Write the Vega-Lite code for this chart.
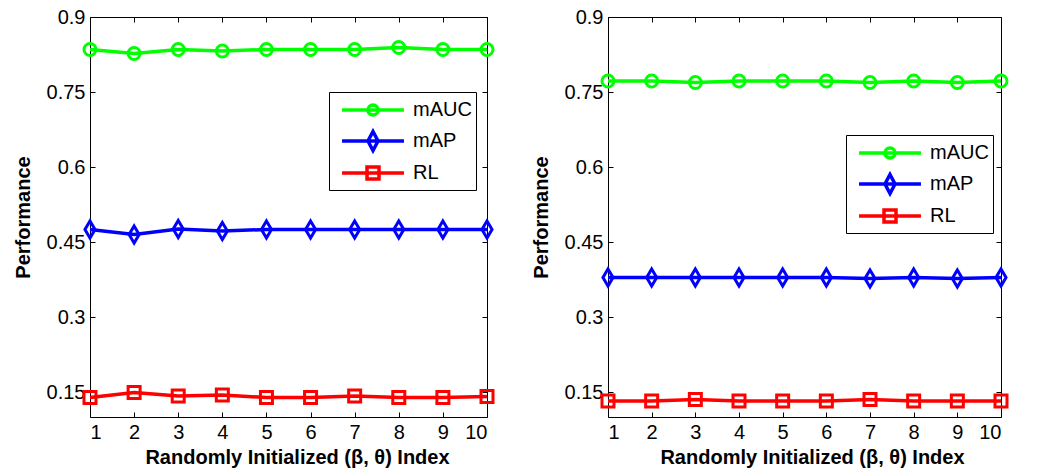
{
  "$schema": "https://vega.github.io/schema/vega-lite/v6.json",
  "background": "white",
  "padding": {"left": 12, "top": 6, "right": 5, "bottom": 2},
  "config": {
    "font": "Liberation Sans",
    "view": {"stroke": "#000", "strokeWidth": 1},
    "axis": {
      "domain": false,
      "labelFont": "Liberation Sans",
      "labelFontSize": 20,
      "labelColor": "#000",
      "tickColor": "#000",
      "tickSize": -5,
      "tickWidth": 1,
      "labelPadding": 10,
      "grid": true,
      "gridColor": "#000",
      "gridOpacity": 0.45,
      "gridDash": [1, 3],
      "gridWidth": 1,
      "titleFont": "Liberation Sans",
      "titleFontSize": 20,
      "titleFontWeight": "bold",
      "titleColor": "#000"
    },
    "legend": {
      "orient": "none", "title": null, "direction": "vertical",
      "strokeColor": "#000", "fillColor": "#fff", "padding": 4, "rowPadding": 1,
      "symbolSize": 576, "symbolStrokeWidth": 3.5, "symbolOffset": 26, "labelOffset": 26,
      "labelFontSize": 20, "labelFont": "Liberation Sans", "labelColor": "#000"
    }
  },
  "datasets": {
    "left": [
      {"index": 1, "metric": "mAUC", "value": 0.835},
      {"index": 2, "metric": "mAUC", "value": 0.827},
      {"index": 3, "metric": "mAUC", "value": 0.835},
      {"index": 4, "metric": "mAUC", "value": 0.832},
      {"index": 5, "metric": "mAUC", "value": 0.835},
      {"index": 6, "metric": "mAUC", "value": 0.835},
      {"index": 7, "metric": "mAUC", "value": 0.835},
      {"index": 8, "metric": "mAUC", "value": 0.839},
      {"index": 9, "metric": "mAUC", "value": 0.835},
      {"index": 10, "metric": "mAUC", "value": 0.835},
      {"index": 1, "metric": "mAP", "value": 0.475},
      {"index": 2, "metric": "mAP", "value": 0.465},
      {"index": 3, "metric": "mAP", "value": 0.476},
      {"index": 4, "metric": "mAP", "value": 0.472},
      {"index": 5, "metric": "mAP", "value": 0.475},
      {"index": 6, "metric": "mAP", "value": 0.475},
      {"index": 7, "metric": "mAP", "value": 0.475},
      {"index": 8, "metric": "mAP", "value": 0.475},
      {"index": 9, "metric": "mAP", "value": 0.475},
      {"index": 10, "metric": "mAP", "value": 0.475},
      {"index": 1, "metric": "RL", "value": 0.139},
      {"index": 2, "metric": "RL", "value": 0.149},
      {"index": 3, "metric": "RL", "value": 0.142},
      {"index": 4, "metric": "RL", "value": 0.144},
      {"index": 5, "metric": "RL", "value": 0.139},
      {"index": 6, "metric": "RL", "value": 0.139},
      {"index": 7, "metric": "RL", "value": 0.142},
      {"index": 8, "metric": "RL", "value": 0.139},
      {"index": 9, "metric": "RL", "value": 0.139},
      {"index": 10, "metric": "RL", "value": 0.141}
    ],
    "right": [
      {"index": 1, "metric": "mAUC", "value": 0.772},
      {"index": 2, "metric": "mAUC", "value": 0.772},
      {"index": 3, "metric": "mAUC", "value": 0.769},
      {"index": 4, "metric": "mAUC", "value": 0.772},
      {"index": 5, "metric": "mAUC", "value": 0.772},
      {"index": 6, "metric": "mAUC", "value": 0.772},
      {"index": 7, "metric": "mAUC", "value": 0.769},
      {"index": 8, "metric": "mAUC", "value": 0.772},
      {"index": 9, "metric": "mAUC", "value": 0.769},
      {"index": 10, "metric": "mAUC", "value": 0.772},
      {"index": 1, "metric": "mAP", "value": 0.379},
      {"index": 2, "metric": "mAP", "value": 0.379},
      {"index": 3, "metric": "mAP", "value": 0.379},
      {"index": 4, "metric": "mAP", "value": 0.379},
      {"index": 5, "metric": "mAP", "value": 0.379},
      {"index": 6, "metric": "mAP", "value": 0.379},
      {"index": 7, "metric": "mAP", "value": 0.377},
      {"index": 8, "metric": "mAP", "value": 0.379},
      {"index": 9, "metric": "mAP", "value": 0.377},
      {"index": 10, "metric": "mAP", "value": 0.379},
      {"index": 1, "metric": "RL", "value": 0.132},
      {"index": 2, "metric": "RL", "value": 0.132},
      {"index": 3, "metric": "RL", "value": 0.135},
      {"index": 4, "metric": "RL", "value": 0.132},
      {"index": 5, "metric": "RL", "value": 0.132},
      {"index": 6, "metric": "RL", "value": 0.132},
      {"index": 7, "metric": "RL", "value": 0.135},
      {"index": 8, "metric": "RL", "value": 0.132},
      {"index": 9, "metric": "RL", "value": 0.132},
      {"index": 10, "metric": "RL", "value": 0.132}
    ]
  },
  "spacing": 30,
  "resolve": {
    "scale": {"color": "independent", "shape": "independent"},
    "legend": {"color": "independent", "shape": "independent"}
  },
  "hconcat": [
    {
      "width": 397,
      "height": 400,
      "data": {"name": "left"},
      "resolve": {"axis": {"x": "independent", "y": "independent"}},
      "layer": [
        {
          "transform": [{"filter": "datum.index < 0"}],
          "mark": {"type": "point", "filled": false, "strokeWidth": 3.5, "size": 576, "opacity": 1},
          "encoding": {
            "x": {"field": "index", "type": "quantitative", "scale": {"domain": [1, 10], "nice": false}, "axis": null},
            "y": {"field": "value", "type": "quantitative", "scale": {"domain": [0.1, 0.9], "nice": false, "zero": false}, "axis": null},
            "color": {"field": "metric", "type": "nominal",
              "scale": {"domain": ["mAUC", "mAP", "RL"], "range": ["#00ff00", "#0000ff", "#ff0000"]},
              "legend": {"legendX": 239, "legendY": 75}},
            "shape": {"field": "metric", "type": "nominal", "legend": null,
              "scale": {"domain": ["mAUC", "mAP", "RL"], "range": [
                "M-2.58,0L2.58,0M0.42,0A0.42,0.42 0 1,1 -0.42,0A0.42,0.42 0 1,1 0.42,0",
                "M-2.58,0L2.58,0M0,-0.79L0.42,0L0,0.79L-0.42,0Z",
                "M-2.58,0L2.58,0M-0.5,-0.5L0.5,-0.5L0.5,0.5L-0.5,0.5Z"]}}
          }
        },
        {
          "mark": {"type": "line", "strokeWidth": 3.5},
          "encoding": {
            "x": {"field": "index", "type": "quantitative", "scale": {"domain": [1, 10], "nice": false},
              "axis": {"values": [1, 2, 3, 4, 5, 6, 7, 8, 9, 10], "format": "d", "title": "Randomly Initialized (β, θ) Index", "titlePadding": 5, "titleX": 207}},
            "y": {"field": "value", "type": "quantitative", "scale": {"domain": [0.1, 0.9], "nice": false, "zero": false},
              "axis": {"values": [0.15, 0.3, 0.45, 0.6, 0.75, 0.9], "labelExpr": "format(datum.value, '.2~f')", "title": "Performance", "titlePadding": 13}},
            "color": {"field": "metric", "type": "nominal",
              "scale": {"domain": ["mAUC", "mAP", "RL"], "range": ["#00ff00", "#0000ff", "#ff0000"]}, "legend": null}
          }
        },
        {
          "transform": [{"filter": "datum.metric === 'mAUC'"}],
          "mark": {"type": "point", "shape": "M0.5,0A0.5,0.5 0 1,1 -0.5,0A0.5,0.5 0 1,1 0.5,0Z", "filled": false, "strokeWidth": 3, "size": 576, "opacity": 1},
          "encoding": {
            "x": {"field": "index", "type": "quantitative",
              "axis": {"orient": "top", "values": [1, 2, 3, 4, 5, 6, 7, 8, 9, 10], "labels": false, "grid": false, "title": null}},
            "y": {"field": "value", "type": "quantitative",
              "axis": {"orient": "right", "values": [0.15, 0.3, 0.45, 0.6, 0.75, 0.9], "labels": false, "grid": false, "title": null}},
            "color": {"field": "metric", "type": "nominal",
              "scale": {"domain": ["mAUC", "mAP", "RL"], "range": ["#00ff00", "#0000ff", "#ff0000"]}, "legend": null}
          }
        },
        {
          "transform": [{"filter": "datum.metric === 'mAP'"}],
          "mark": {"type": "point", "shape": "M0,-0.71L0.42,0L0,0.71L-0.42,0Z", "filled": false, "strokeWidth": 3, "size": 576, "opacity": 1},
          "encoding": {
            "x": {"field": "index", "type": "quantitative", "axis": null},
            "y": {"field": "value", "type": "quantitative", "axis": null},
            "color": {"field": "metric", "type": "nominal",
              "scale": {"domain": ["mAUC", "mAP", "RL"], "range": ["#00ff00", "#0000ff", "#ff0000"]}, "legend": null}
          }
        },
        {
          "transform": [{"filter": "datum.metric === 'RL'"}],
          "mark": {"type": "point", "shape": "M-0.5,-0.5L0.5,-0.5L0.5,0.5L-0.5,0.5Z", "filled": false, "strokeWidth": 3, "size": 576, "opacity": 1},
          "encoding": {
            "x": {"field": "index", "type": "quantitative", "axis": null},
            "y": {"field": "value", "type": "quantitative", "axis": null},
            "color": {"field": "metric", "type": "nominal",
              "scale": {"domain": ["mAUC", "mAP", "RL"], "range": ["#00ff00", "#0000ff", "#ff0000"]}, "legend": null}
          }
        }
      ]
    },
    {
      "width": 393,
      "height": 400,
      "data": {"name": "right"},
      "resolve": {"axis": {"x": "independent", "y": "independent"}},
      "layer": [
        {
          "transform": [{"filter": "datum.index < 0"}],
          "mark": {"type": "point", "filled": false, "strokeWidth": 3.5, "size": 576, "opacity": 1},
          "encoding": {
            "x": {"field": "index", "type": "quantitative", "scale": {"domain": [1, 10], "nice": false}, "axis": null},
            "y": {"field": "value", "type": "quantitative", "scale": {"domain": [0.1, 0.9], "nice": false, "zero": false}, "axis": null},
            "color": {"field": "metric", "type": "nominal",
              "scale": {"domain": ["mAUC", "mAP", "RL"], "range": ["#00ff00", "#0000ff", "#ff0000"]},
              "legend": {"legendX": 238, "legendY": 118}},
            "shape": {"field": "metric", "type": "nominal", "legend": null,
              "scale": {"domain": ["mAUC", "mAP", "RL"], "range": [
                "M-2.58,0L2.58,0M0.42,0A0.42,0.42 0 1,1 -0.42,0A0.42,0.42 0 1,1 0.42,0",
                "M-2.58,0L2.58,0M0,-0.79L0.42,0L0,0.79L-0.42,0Z",
                "M-2.58,0L2.58,0M-0.5,-0.5L0.5,-0.5L0.5,0.5L-0.5,0.5Z"]}}
          }
        },
        {
          "mark": {"type": "line", "strokeWidth": 3.5},
          "encoding": {
            "x": {"field": "index", "type": "quantitative", "scale": {"domain": [1, 10], "nice": false},
              "axis": {"values": [1, 2, 3, 4, 5, 6, 7, 8, 9, 10], "format": "d", "title": "Randomly Initialized (β, θ) Index", "titlePadding": 5, "titleX": 204}},
            "y": {"field": "value", "type": "quantitative", "scale": {"domain": [0.1, 0.9], "nice": false, "zero": false},
              "axis": {"values": [0.15, 0.3, 0.45, 0.6, 0.75, 0.9], "labelExpr": "format(datum.value, '.2~f')", "title": "Performance", "titlePadding": 13}},
            "color": {"field": "metric", "type": "nominal",
              "scale": {"domain": ["mAUC", "mAP", "RL"], "range": ["#00ff00", "#0000ff", "#ff0000"]}, "legend": null}
          }
        },
        {
          "transform": [{"filter": "datum.metric === 'mAUC'"}],
          "mark": {"type": "point", "shape": "M0.5,0A0.5,0.5 0 1,1 -0.5,0A0.5,0.5 0 1,1 0.5,0Z", "filled": false, "strokeWidth": 3, "size": 576, "opacity": 1},
          "encoding": {
            "x": {"field": "index", "type": "quantitative",
              "axis": {"orient": "top", "values": [1, 2, 3, 4, 5, 6, 7, 8, 9, 10], "labels": false, "grid": false, "title": null}},
            "y": {"field": "value", "type": "quantitative",
              "axis": {"orient": "right", "values": [0.15, 0.3, 0.45, 0.6, 0.75, 0.9], "labels": false, "grid": false, "title": null}},
            "color": {"field": "metric", "type": "nominal",
              "scale": {"domain": ["mAUC", "mAP", "RL"], "range": ["#00ff00", "#0000ff", "#ff0000"]}, "legend": null}
          }
        },
        {
          "transform": [{"filter": "datum.metric === 'mAP'"}],
          "mark": {"type": "point", "shape": "M0,-0.71L0.42,0L0,0.71L-0.42,0Z", "filled": false, "strokeWidth": 3, "size": 576, "opacity": 1},
          "encoding": {
            "x": {"field": "index", "type": "quantitative", "axis": null},
            "y": {"field": "value", "type": "quantitative", "axis": null},
            "color": {"field": "metric", "type": "nominal",
              "scale": {"domain": ["mAUC", "mAP", "RL"], "range": ["#00ff00", "#0000ff", "#ff0000"]}, "legend": null}
          }
        },
        {
          "transform": [{"filter": "datum.metric === 'RL'"}],
          "mark": {"type": "point", "shape": "M-0.5,-0.5L0.5,-0.5L0.5,0.5L-0.5,0.5Z", "filled": false, "strokeWidth": 3, "size": 576, "opacity": 1},
          "encoding": {
            "x": {"field": "index", "type": "quantitative", "axis": null},
            "y": {"field": "value", "type": "quantitative", "axis": null},
            "color": {"field": "metric", "type": "nominal",
              "scale": {"domain": ["mAUC", "mAP", "RL"], "range": ["#00ff00", "#0000ff", "#ff0000"]}, "legend": null}
          }
        }
      ]
    }
  ]
}
